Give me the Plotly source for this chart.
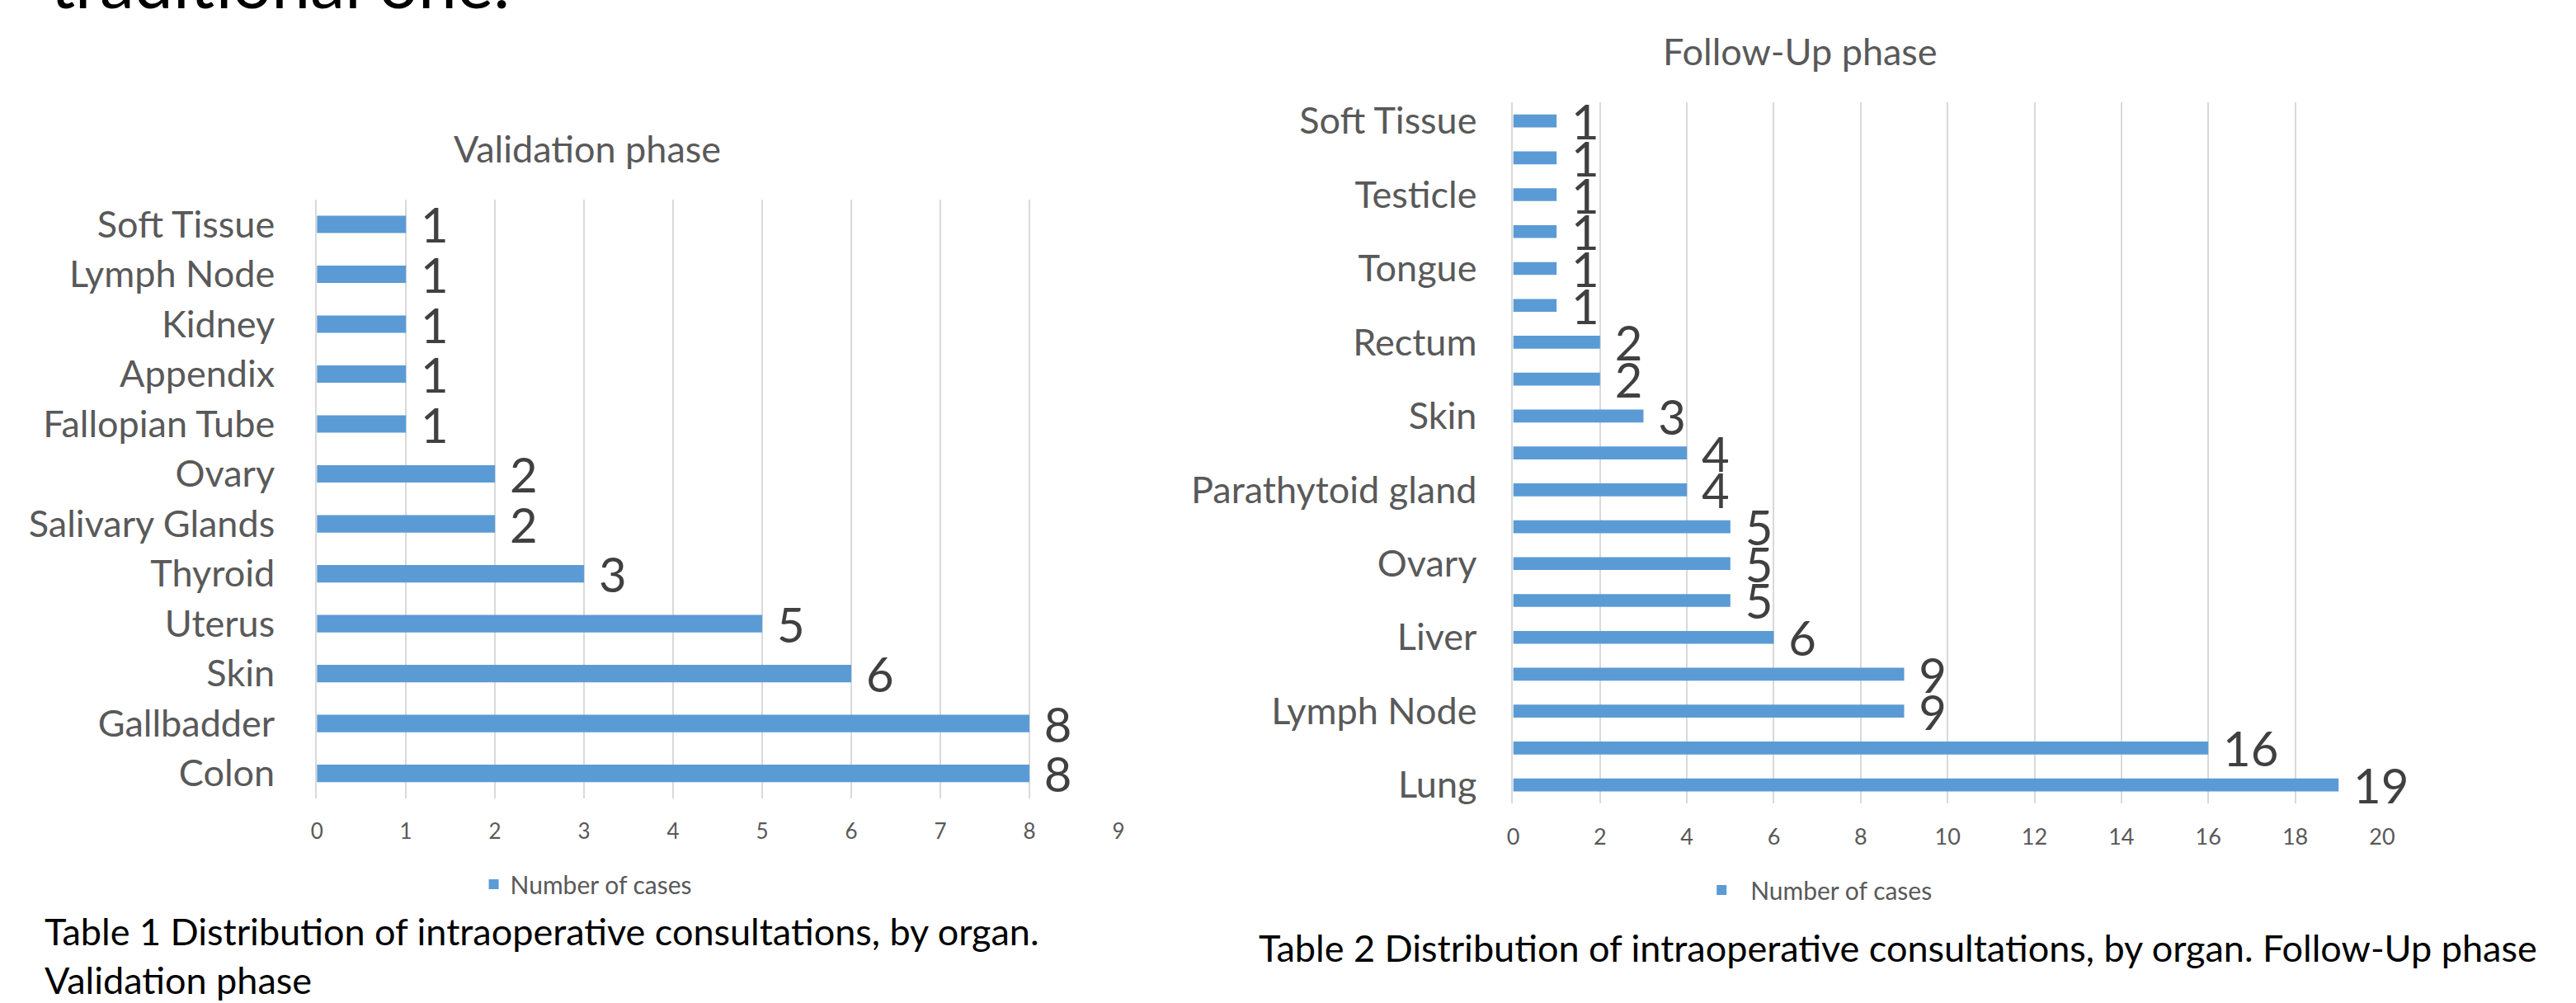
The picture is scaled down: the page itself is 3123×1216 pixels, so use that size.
import plotly.graph_objects as go

W, H = 3123, 1216

# ---------------- data ----------------
# Validation phase (listed bottom -> top, as in the chart)
val_organs = ["Colon", "Gallbadder", "Skin", "Uterus", "Thyroid", "Salivary Glands",
              "Ovary", "Fallopian Tube", "Appendix", "Kidney", "Lymph Node", "Soft Tissue"]
val_cases = [8, 8, 6, 5, 3, 2, 2, 1, 1, 1, 1, 1]
val_xticks = list(range(0, 10, 1))

# Follow-Up phase (bottom -> top); only every other category label is printed
fu_organs = ["Lung", "", "Lymph Node", "", "Liver", "", "Ovary", "", "Parathytoid gland", "",
             "Skin", "", "Rectum", "", "Tongue", "", "Testicle", "", "Soft Tissue"]
fu_cases = [19, 16, 9, 9, 6, 5, 5, 5, 4, 4, 3, 2, 2, 1, 1, 1, 1, 1, 1]
fu_xticks = list(range(0, 21, 2))

series_name = "Number of cases"
title_left = "Validation phase"
title_right = "Follow-Up phase"
caption_left = "Table 1 Distribution of intraoperative consultations, by organ.<br>Validation phase"
caption_right = "Table 2 Distribution of intraoperative consultations, by organ. Follow-Up phase"
top_text = "traditional one."

# ---------------- styling ----------------
FONT = "Lato"
BAR = "#5B9BD5"
GRID = "#D9D9D9"
GRAY = "#595959"
DARK = "#404040"


def px(x):
    return x / W


def py(y):
    return 1 - y / H


fu_pos = list(range(len(fu_organs)))

fig = go.Figure()

fig.add_trace(go.Bar(
    x=val_cases, y=val_organs, orientation="h", name=series_name,
    marker=dict(color=BAR, line=dict(width=0)),
    texttemplate="\u00a0%{x}", textposition="outside", constraintext="none",
    cliponaxis=False, textfont=dict(family=FONT, size=58, color=DARK),
    xaxis="x", yaxis="y", legend="legend", showlegend=True,
))

fig.add_trace(go.Bar(
    x=fu_cases, y=fu_pos, orientation="h", name=series_name,
    marker=dict(color=BAR, line=dict(width=0)),
    texttemplate="\u00a0%{x}", textposition="outside", constraintext="none",
    cliponaxis=False, textfont=dict(family=FONT, size=58, color=DARK),
    xaxis="x2", yaxis="y2", legend="legend2", showlegend=True,
))

axis_common = dict(showgrid=True, gridcolor=GRID, gridwidth=2, zeroline=False,
                   showline=False, ticks="", fixedrange=True)

fig.update_layout(
    width=W, height=H,
    margin=dict(l=0, r=0, t=0, b=0, pad=0),
    paper_bgcolor="white", plot_bgcolor="white",
    font=dict(family=FONT, color=GRAY),
    bargap=0.65,
    xaxis=dict(domain=[px(379.1), px(1358.4)], range=[0, 9], tickvals=val_xticks,
               tickfont=dict(family=FONT, size=26, color=GRAY), ticklabelstandoff=22,
               anchor="y", **axis_common),
    yaxis=dict(domain=[py(969), py(237.5)], type="category", anchor="x",
               showgrid=False, zeroline=False, showline=True, linecolor=GRID, linewidth=2,
               ticks="", ticklabelstandoff=40,
               tickfont=dict(family=FONT, size=45, color=GRAY), fixedrange=True),
    xaxis2=dict(domain=[px(1840.6), px(2902.2)], range=[0, 20], tickvals=fu_xticks,
                tickfont=dict(family=FONT, size=27, color=GRAY), ticklabelstandoff=22,
                anchor="y2", **axis_common),
    yaxis2=dict(domain=[py(975.2), py(119.1)], range=[-0.5, len(fu_organs) - 0.5],
                tickvals=fu_pos, ticktext=fu_organs, anchor="x2",
                showgrid=False, zeroline=False, showline=True, linecolor=GRID, linewidth=2,
                ticks="", ticklabelstandoff=33,
                tickfont=dict(family=FONT, size=45, color=GRAY), fixedrange=True),
    legend=dict(x=px(575), y=py(1074), xanchor="left", yanchor="middle",
                font=dict(family=FONT, size=30, color=GRAY), bgcolor="rgba(0,0,0,0)",
                borderwidth=0),
    legend2=dict(x=px(2060), y=py(1081), xanchor="left", yanchor="middle",
                 font=dict(family=FONT, size=30, color=GRAY), bgcolor="rgba(0,0,0,0)",
                 borderwidth=0, itemwidth=60),
    annotations=[
        dict(text=top_text, x=px(51), y=py(24), xref="paper", yref="paper",
             xanchor="left", yanchor="bottom", showarrow=False,
             font=dict(family=FONT, size=84, color="black")),
        dict(text=title_left, x=px(709), y=py(175), xref="paper", yref="paper",
             xanchor="center", yanchor="middle", showarrow=False,
             font=dict(family=FONT, size=45, color=GRAY)),
        dict(text=title_right, x=px(2191), y=py(56), xref="paper", yref="paper",
             xanchor="center", yanchor="middle", showarrow=False,
             font=dict(family=FONT, size=45, color=GRAY)),
        dict(text=caption_left, x=px(44), y=py(1161), xref="paper", yref="paper",
             xanchor="left", yanchor="middle", align="left", showarrow=False,
             font=dict(family=FONT, size=45, color="black")),
        dict(text=caption_right, x=px(1528), y=py(1152), xref="paper", yref="paper",
             xanchor="left", yanchor="middle", align="left", showarrow=False,
             font=dict(family=FONT, size=45, color="black")),
    ],
)

fig.write_html(
    "out.html",
    config={"displayModeBar": False, "staticPlot": True},
    post_script="document.body.style.margin='0';document.body.style.overflow='hidden';",
)
